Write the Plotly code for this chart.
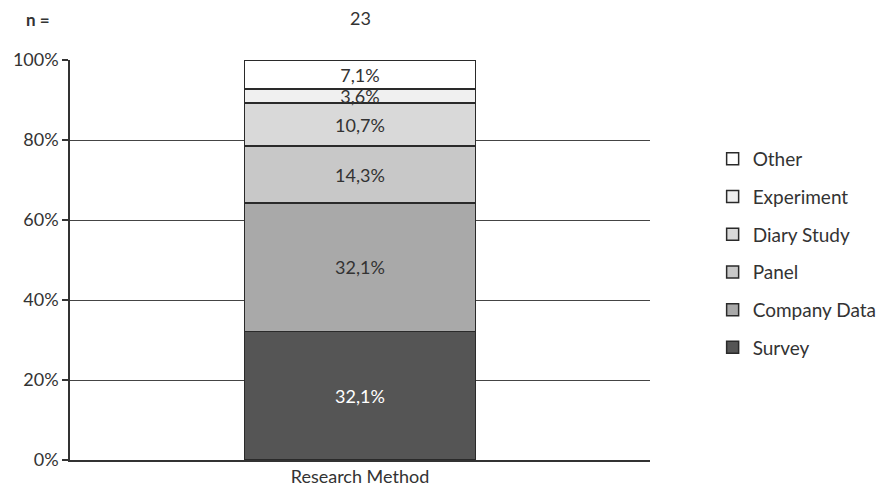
import plotly.graph_objects as go

# Share of studies by research method (one stacked column, percent)
category = ["Research Method"]
methods = ["Survey", "Company Data", "Panel", "Diary Study", "Experiment", "Other"]
shares = [32.1, 32.1, 14.3, 10.7, 3.6, 7.1]
fills = ["#555555", "#a9a9a9", "#c8c8c8", "#d9d9d9", "#f0f0f0", "#ffffff"]
label_colors = ["#ffffff", "#333333", "#333333", "#333333", "#333333", "#333333"]
n_label = "n ="
n_value = "23"
y_ticks = [0, 20, 40, 60, 80, 100]
y_tick_text = [f"{v}%" for v in y_ticks]

FONT = "Lato, Open Sans, sans-serif"

fig = go.Figure()
for i, (name, val, col, tcol) in enumerate(zip(methods, shares, fills, label_colors)):
    fig.add_trace(go.Bar(
        x=category, y=[val], name=name,
        marker=dict(color=col, line=dict(color="#2a2a2a", width=1.5)),
        width=0.398,
        texttemplate="%{y:.1f}%",
        textposition="inside",
        insidetextanchor="middle",
        constraintext="none",
        textfont=dict(color=tcol, size=18, family=FONT),
        legendgroup=name,
        legendrank=100 - i,   # top segment listed first
    ))

fig.update_layout(
    barmode="stack",
    separators=", ",
    width=883, height=498,
    margin=dict(l=70, r=233, t=60, b=38, autoexpand=False),
    paper_bgcolor="white", plot_bgcolor="white",
    font=dict(family=FONT, size=18, color="#333333"),
    showlegend=True,
    legend=dict(
        x=1.108, y=0.8, xanchor="left", yanchor="top",
        traceorder="grouped", tracegroupgap=10,
        font=dict(size=19, color="#333333"),
        itemwidth=30,
    ),
    xaxis=dict(
        showline=True, linecolor="#333333", linewidth=1.5,
        ticks="", tickfont=dict(size=18), range=[-0.5, 0.5],
    ),
    yaxis=dict(
        range=[0, 100], tickvals=y_ticks, ticktext=y_tick_text,
        showgrid=True, gridcolor="#444444", gridwidth=1.2,
        showline=True, linecolor="#333333", linewidth=1.5,
        ticks="outside", ticklen=6, tickcolor="#333333", tickwidth=1.5,
        tickfont=dict(size=18), zeroline=False,
    ),
    annotations=[
        dict(text="<b>" + n_label + "</b>", xref="paper", yref="paper",
             x=-0.055, y=1.1, xanchor="center", yanchor="middle",
             showarrow=False, font=dict(size=17)),
        dict(text=n_value, xref="paper", yref="paper",
             x=0.5, y=1.105, xanchor="center", yanchor="middle",
             showarrow=False, font=dict(size=18)),
    ],
)

fig.write_html("out.html")
